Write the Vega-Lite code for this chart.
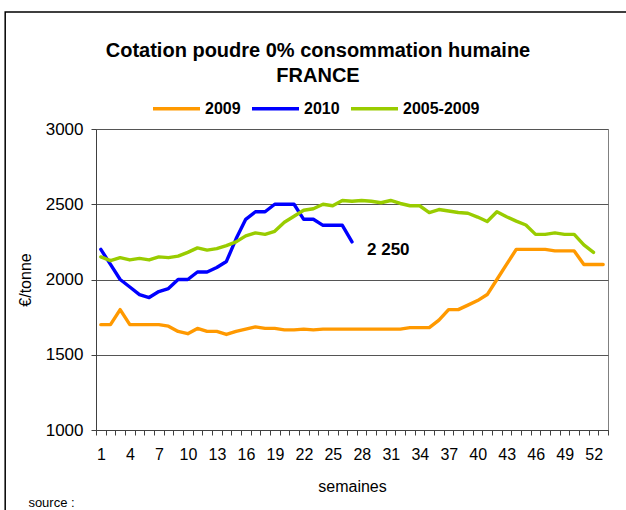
{
  "$schema": "https://vega.github.io/schema/vega-lite/v6.json",
  "width": 512,
  "height": 301,
  "autosize": "none",
  "padding": {"left": 96, "top": 129, "right": 18, "bottom": 80},
  "background": "white",
  "title": {
    "text": ["Cotation poudre 0% consommation humaine", "FRANCE"],
    "font": "Liberation Sans",
    "fontSize": 20,
    "fontWeight": "bold",
    "color": "black",
    "anchor": "middle",
    "dx": -34,
    "offset": -75,
    "lineHeight": 25
  },
  "config": {
    "font": "Liberation Sans",
    "view": {"stroke": "#808080", "strokeWidth": 1}
  },
  "datasets": {
    "series": [
      {"week": 1, "serie": "2009", "value": 1700},
      {"week": 2, "serie": "2009", "value": 1700},
      {"week": 3, "serie": "2009", "value": 1800},
      {"week": 4, "serie": "2009", "value": 1700},
      {"week": 5, "serie": "2009", "value": 1700},
      {"week": 6, "serie": "2009", "value": 1700},
      {"week": 7, "serie": "2009", "value": 1700},
      {"week": 8, "serie": "2009", "value": 1690},
      {"week": 9, "serie": "2009", "value": 1655},
      {"week": 10, "serie": "2009", "value": 1640},
      {"week": 11, "serie": "2009", "value": 1675},
      {"week": 12, "serie": "2009", "value": 1655},
      {"week": 13, "serie": "2009", "value": 1655},
      {"week": 14, "serie": "2009", "value": 1635},
      {"week": 15, "serie": "2009", "value": 1655},
      {"week": 16, "serie": "2009", "value": 1670},
      {"week": 17, "serie": "2009", "value": 1685},
      {"week": 18, "serie": "2009", "value": 1675},
      {"week": 19, "serie": "2009", "value": 1675},
      {"week": 20, "serie": "2009", "value": 1665},
      {"week": 21, "serie": "2009", "value": 1665},
      {"week": 22, "serie": "2009", "value": 1670},
      {"week": 23, "serie": "2009", "value": 1665},
      {"week": 24, "serie": "2009", "value": 1670},
      {"week": 25, "serie": "2009", "value": 1670},
      {"week": 26, "serie": "2009", "value": 1670},
      {"week": 27, "serie": "2009", "value": 1670},
      {"week": 28, "serie": "2009", "value": 1670},
      {"week": 29, "serie": "2009", "value": 1670},
      {"week": 30, "serie": "2009", "value": 1670},
      {"week": 31, "serie": "2009", "value": 1670},
      {"week": 32, "serie": "2009", "value": 1670},
      {"week": 33, "serie": "2009", "value": 1680},
      {"week": 34, "serie": "2009", "value": 1680},
      {"week": 35, "serie": "2009", "value": 1680},
      {"week": 36, "serie": "2009", "value": 1730},
      {"week": 37, "serie": "2009", "value": 1800},
      {"week": 38, "serie": "2009", "value": 1800},
      {"week": 39, "serie": "2009", "value": 1830},
      {"week": 40, "serie": "2009", "value": 1860},
      {"week": 41, "serie": "2009", "value": 1900},
      {"week": 42, "serie": "2009", "value": 2000},
      {"week": 43, "serie": "2009", "value": 2100},
      {"week": 44, "serie": "2009", "value": 2200},
      {"week": 45, "serie": "2009", "value": 2200},
      {"week": 46, "serie": "2009", "value": 2200},
      {"week": 47, "serie": "2009", "value": 2200},
      {"week": 48, "serie": "2009", "value": 2190},
      {"week": 49, "serie": "2009", "value": 2190},
      {"week": 50, "serie": "2009", "value": 2190},
      {"week": 51, "serie": "2009", "value": 2100},
      {"week": 52, "serie": "2009", "value": 2100},
      {"week": 53, "serie": "2009", "value": 2100},
      {"week": 1, "serie": "2010", "value": 2200},
      {"week": 2, "serie": "2010", "value": 2100},
      {"week": 3, "serie": "2010", "value": 2000},
      {"week": 4, "serie": "2010", "value": 1950},
      {"week": 5, "serie": "2010", "value": 1900},
      {"week": 6, "serie": "2010", "value": 1880},
      {"week": 7, "serie": "2010", "value": 1920},
      {"week": 8, "serie": "2010", "value": 1940},
      {"week": 9, "serie": "2010", "value": 2000},
      {"week": 10, "serie": "2010", "value": 2000},
      {"week": 11, "serie": "2010", "value": 2050},
      {"week": 12, "serie": "2010", "value": 2050},
      {"week": 13, "serie": "2010", "value": 2080},
      {"week": 14, "serie": "2010", "value": 2120},
      {"week": 15, "serie": "2010", "value": 2270},
      {"week": 16, "serie": "2010", "value": 2400},
      {"week": 17, "serie": "2010", "value": 2450},
      {"week": 18, "serie": "2010", "value": 2450},
      {"week": 19, "serie": "2010", "value": 2500},
      {"week": 20, "serie": "2010", "value": 2500},
      {"week": 21, "serie": "2010", "value": 2500},
      {"week": 22, "serie": "2010", "value": 2400},
      {"week": 23, "serie": "2010", "value": 2400},
      {"week": 24, "serie": "2010", "value": 2360},
      {"week": 25, "serie": "2010", "value": 2360},
      {"week": 26, "serie": "2010", "value": 2360},
      {"week": 27, "serie": "2010", "value": 2250},
      {"week": 1, "serie": "2005-2009", "value": 2150},
      {"week": 2, "serie": "2005-2009", "value": 2125},
      {"week": 3, "serie": "2005-2009", "value": 2145},
      {"week": 4, "serie": "2005-2009", "value": 2130},
      {"week": 5, "serie": "2005-2009", "value": 2140},
      {"week": 6, "serie": "2005-2009", "value": 2130},
      {"week": 7, "serie": "2005-2009", "value": 2150},
      {"week": 8, "serie": "2005-2009", "value": 2145},
      {"week": 9, "serie": "2005-2009", "value": 2155},
      {"week": 10, "serie": "2005-2009", "value": 2180},
      {"week": 11, "serie": "2005-2009", "value": 2210},
      {"week": 12, "serie": "2005-2009", "value": 2195},
      {"week": 13, "serie": "2005-2009", "value": 2205},
      {"week": 14, "serie": "2005-2009", "value": 2225},
      {"week": 15, "serie": "2005-2009", "value": 2250},
      {"week": 16, "serie": "2005-2009", "value": 2290},
      {"week": 17, "serie": "2005-2009", "value": 2310},
      {"week": 18, "serie": "2005-2009", "value": 2300},
      {"week": 19, "serie": "2005-2009", "value": 2320},
      {"week": 20, "serie": "2005-2009", "value": 2380},
      {"week": 21, "serie": "2005-2009", "value": 2420},
      {"week": 22, "serie": "2005-2009", "value": 2460},
      {"week": 23, "serie": "2005-2009", "value": 2470},
      {"week": 24, "serie": "2005-2009", "value": 2500},
      {"week": 25, "serie": "2005-2009", "value": 2490},
      {"week": 26, "serie": "2005-2009", "value": 2525},
      {"week": 27, "serie": "2005-2009", "value": 2520},
      {"week": 28, "serie": "2005-2009", "value": 2525},
      {"week": 29, "serie": "2005-2009", "value": 2520},
      {"week": 30, "serie": "2005-2009", "value": 2510},
      {"week": 31, "serie": "2005-2009", "value": 2525},
      {"week": 32, "serie": "2005-2009", "value": 2505},
      {"week": 33, "serie": "2005-2009", "value": 2490},
      {"week": 34, "serie": "2005-2009", "value": 2490},
      {"week": 35, "serie": "2005-2009", "value": 2445},
      {"week": 36, "serie": "2005-2009", "value": 2465},
      {"week": 37, "serie": "2005-2009", "value": 2455},
      {"week": 38, "serie": "2005-2009", "value": 2445},
      {"week": 39, "serie": "2005-2009", "value": 2440},
      {"week": 40, "serie": "2005-2009", "value": 2415},
      {"week": 41, "serie": "2005-2009", "value": 2385},
      {"week": 42, "serie": "2005-2009", "value": 2450},
      {"week": 43, "serie": "2005-2009", "value": 2417},
      {"week": 44, "serie": "2005-2009", "value": 2388},
      {"week": 45, "serie": "2005-2009", "value": 2362},
      {"week": 46, "serie": "2005-2009", "value": 2300},
      {"week": 47, "serie": "2005-2009", "value": 2300},
      {"week": 48, "serie": "2005-2009", "value": 2310},
      {"week": 49, "serie": "2005-2009", "value": 2300},
      {"week": 50, "serie": "2005-2009", "value": 2300},
      {"week": 51, "serie": "2005-2009", "value": 2230},
      {"week": 52, "serie": "2005-2009", "value": 2180}
    ],
    "annot": [
      {"week": 27, "value": 2250, "label": "2 250"}
    ],
    "source": [
      {"label": "source :"}
    ]
  },
  "layer": [
    {
      "data": {"name": "series"},
      "mark": {"type": "line", "strokeJoin": "round", "strokeCap": "round"},
      "encoding": {
        "x": {
          "field": "week",
          "type": "quantitative",
          "scale": {"domain": [0.5, 53.5], "nice": false, "zero": false},
          "axis": {
            "title": "semaines",
            "titleFont": "Liberation Sans",
            "titleFontSize": 16,
            "titleFontWeight": "normal",
            "titleColor": "black",
            "titlePadding": 16,
            "tickCount": 60,
            "values": [0.5, 1.5, 2.5, 3.5, 4.5, 5.5, 6.5, 7.5, 8.5, 9.5, 10.5, 11.5, 12.5, 13.5, 14.5, 15.5, 16.5, 17.5, 18.5, 19.5, 20.5, 21.5, 22.5, 23.5, 24.5, 25.5, 26.5, 27.5, 28.5, 29.5, 30.5, 31.5, 32.5, 33.5, 34.5, 35.5, 36.5, 37.5, 38.5, 39.5, 40.5, 41.5, 42.5, 43.5, 44.5, 45.5, 46.5, 47.5, 48.5, 49.5, 50.5, 51.5, 52.5, 53.5],
            "labelExpr": "(datum.value - 0.5) % 3 == 0 && datum.value < 53 ? format(datum.value + 0.5, 'd') : ''",
            "labelOffset": 5,
            "labelOverlap": false,
            "labelBound": false,
            "labelFlush": false,
            "labelFont": "Liberation Sans",
            "labelFontSize": 16,
            "labelColor": "black",
            "labelPadding": 11,
            "tickSize": 5,
            "tickColor": "#404040",
            "domainColor": "#404040",
            "grid": false
          }
        },
        "y": {
          "field": "value",
          "type": "quantitative",
          "scale": {"domain": [1000, 3000], "nice": false, "zero": false},
          "axis": {
            "title": "€/tonne",
            "titleFont": "Liberation Sans",
            "titleFontSize": 16,
            "titleFontWeight": "normal",
            "titleColor": "black",
            "titlePadding": 12,
            "values": [1000, 1500, 2000, 2500, 3000],
            "format": "d",
            "labelFont": "Liberation Sans",
            "labelFontSize": 17,
            "labelColor": "black",
            "labelPadding": 8,
            "tickSize": 5,
            "tickColor": "#404040",
            "domainColor": "#404040",
            "grid": true,
            "gridColor": "#555555",
            "gridOpacity": 1
          }
        },
        "color": {
          "field": "serie",
          "type": "nominal",
          "scale": {"domain": ["2009", "2010", "2005-2009"], "range": ["#FF9900", "#0000FF", "#99CC00"]},
          "legend": {
            "title": null,
            "orient": "none",
            "legendX": 55,
            "legendY": -46,
            "direction": "horizontal",
            "symbolType": "stroke",
            "symbolSize": 2209,
            "symbolStrokeWidth": 4,
            "labelFont": "Liberation Sans",
            "labelFontSize": 16,
            "labelFontWeight": "bold",
            "labelColor": "black",
            "labelOffset": 3,
            "columnPadding": 4
          }
        },
        "strokeWidth": {
          "field": "serie",
          "type": "nominal",
          "scale": {"domain": ["2009", "2010", "2005-2009"], "range": [3.4, 3.4, 6.5]},
          "legend": null
        }
      }
    },
    {
      "data": {"name": "annot"},
      "mark": {"type": "text", "align": "left", "baseline": "middle", "dx": 15, "dy": 8, "fontSize": 17, "fontWeight": "bold", "font": "Liberation Sans", "color": "black"},
      "encoding": {
        "x": {"field": "week", "type": "quantitative"},
        "y": {"field": "value", "type": "quantitative"},
        "text": {"field": "label"}
      }
    },
    {
      "data": {"name": "source"},
      "mark": {"type": "text", "align": "left", "baseline": "middle", "fontSize": 13, "font": "Liberation Sans", "color": "black", "clip": false},
      "encoding": {
        "x": {"datum": -6.5},
        "y": {"datum": 513},
        "text": {"field": "label"}
      }
    },
    {
      "data": {"name": "source"},
      "mark": {"type": "rect", "fill": null, "stroke": "black", "strokeWidth": 1.5, "clip": false},
      "encoding": {
        "x": {"datum": -8.9},
        "x2": {"datum": 56},
        "y": {"datum": 3778},
        "y2": {"datum": 400}
      }
    }
  ]
}
